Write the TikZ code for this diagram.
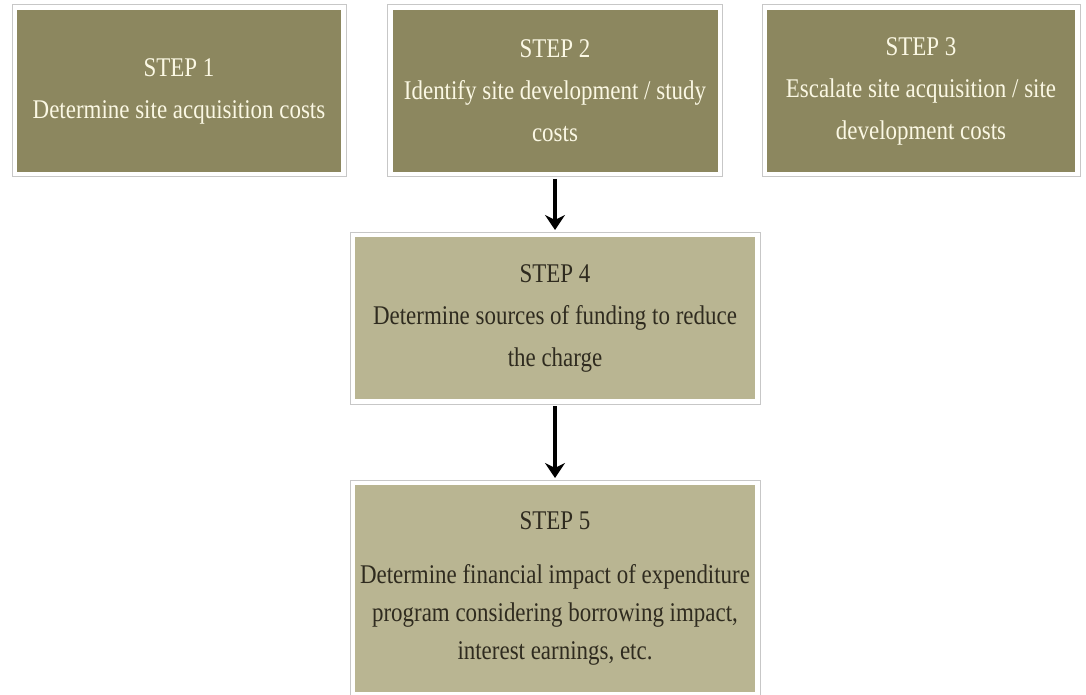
\documentclass[tikz,border=0pt]{standalone}
\usepackage{fontspec}
\setmainfont{Liberation Serif}[FakeStretch = 0.85]
\usepackage{xcolor}
\usetikzlibrary{arrows.meta, positioning}
\definecolor{stepdark}{HTML}{8C875F}
\definecolor{steplight}{HTML}{B9B592}
\definecolor{steptext}{HTML}{FBF8E4}
\definecolor{stepink}{HTML}{2F2B1F}
\colorlet{stepframe}{black!22!white}

\begin{document}
\begin{tikzpicture}[x = 1pt, y = -1pt,
        stepbox/.style = {inner sep = 2pt, outer sep = 7pt, align = center,
            font = \fontsize{27}{42}\selectfont},
        topstep/.style = {stepbox, fill = stepdark, text = steptext, minimum height = 162pt},
        lowstep/.style = {stepbox, fill = steplight, text = stepink, minimum width = 400pt},
        flow/.style = {-{Stealth[length = 15pt, width = 20pt, inset = 5pt]}, line width = 4pt}]%{{{
                \useasboundingbox (0, 0) rectangle (1086, 695);

                \node (S1) [topstep, minimum width = 324pt] at (179, 91) { STEP 1\\ Determine site acquisition costs };
                \node (S2) [topstep, minimum width = 325pt] at (555, 91) { STEP 2\\ Identify site development / study\\ costs };
                \node (S3) [topstep, minimum width = 308pt] at (921, 91) { STEP 3\\ Escalate site acquisition / site\\ development costs };

                \node (S4) [lowstep, minimum height = 162pt] at (555, 318) { STEP 4\\ Determine sources of funding to reduce\\ the charge };
                \node (S5) [lowstep, minimum height = 207pt, font = \fontsize{27}{38}\selectfont] at (555, 588.5)
                    { STEP 5\\[16pt] Determine financial impact of expenditure\\ program considering borrowing impact,\\ interest earnings, etc. };

                \foreach \s in {S1, S2, S3, S4, S5}
                    \draw [color = stepframe, line width = 1pt] ([shift = {(2pt, -2pt)}] \s.north west) rectangle ([shift = {(-2pt, 2pt)}] \s.south east);

                \draw [flow] (S2) -- (S4);
                \draw [flow] (S4) -- (S5);
            \end{tikzpicture}
\end{document}
